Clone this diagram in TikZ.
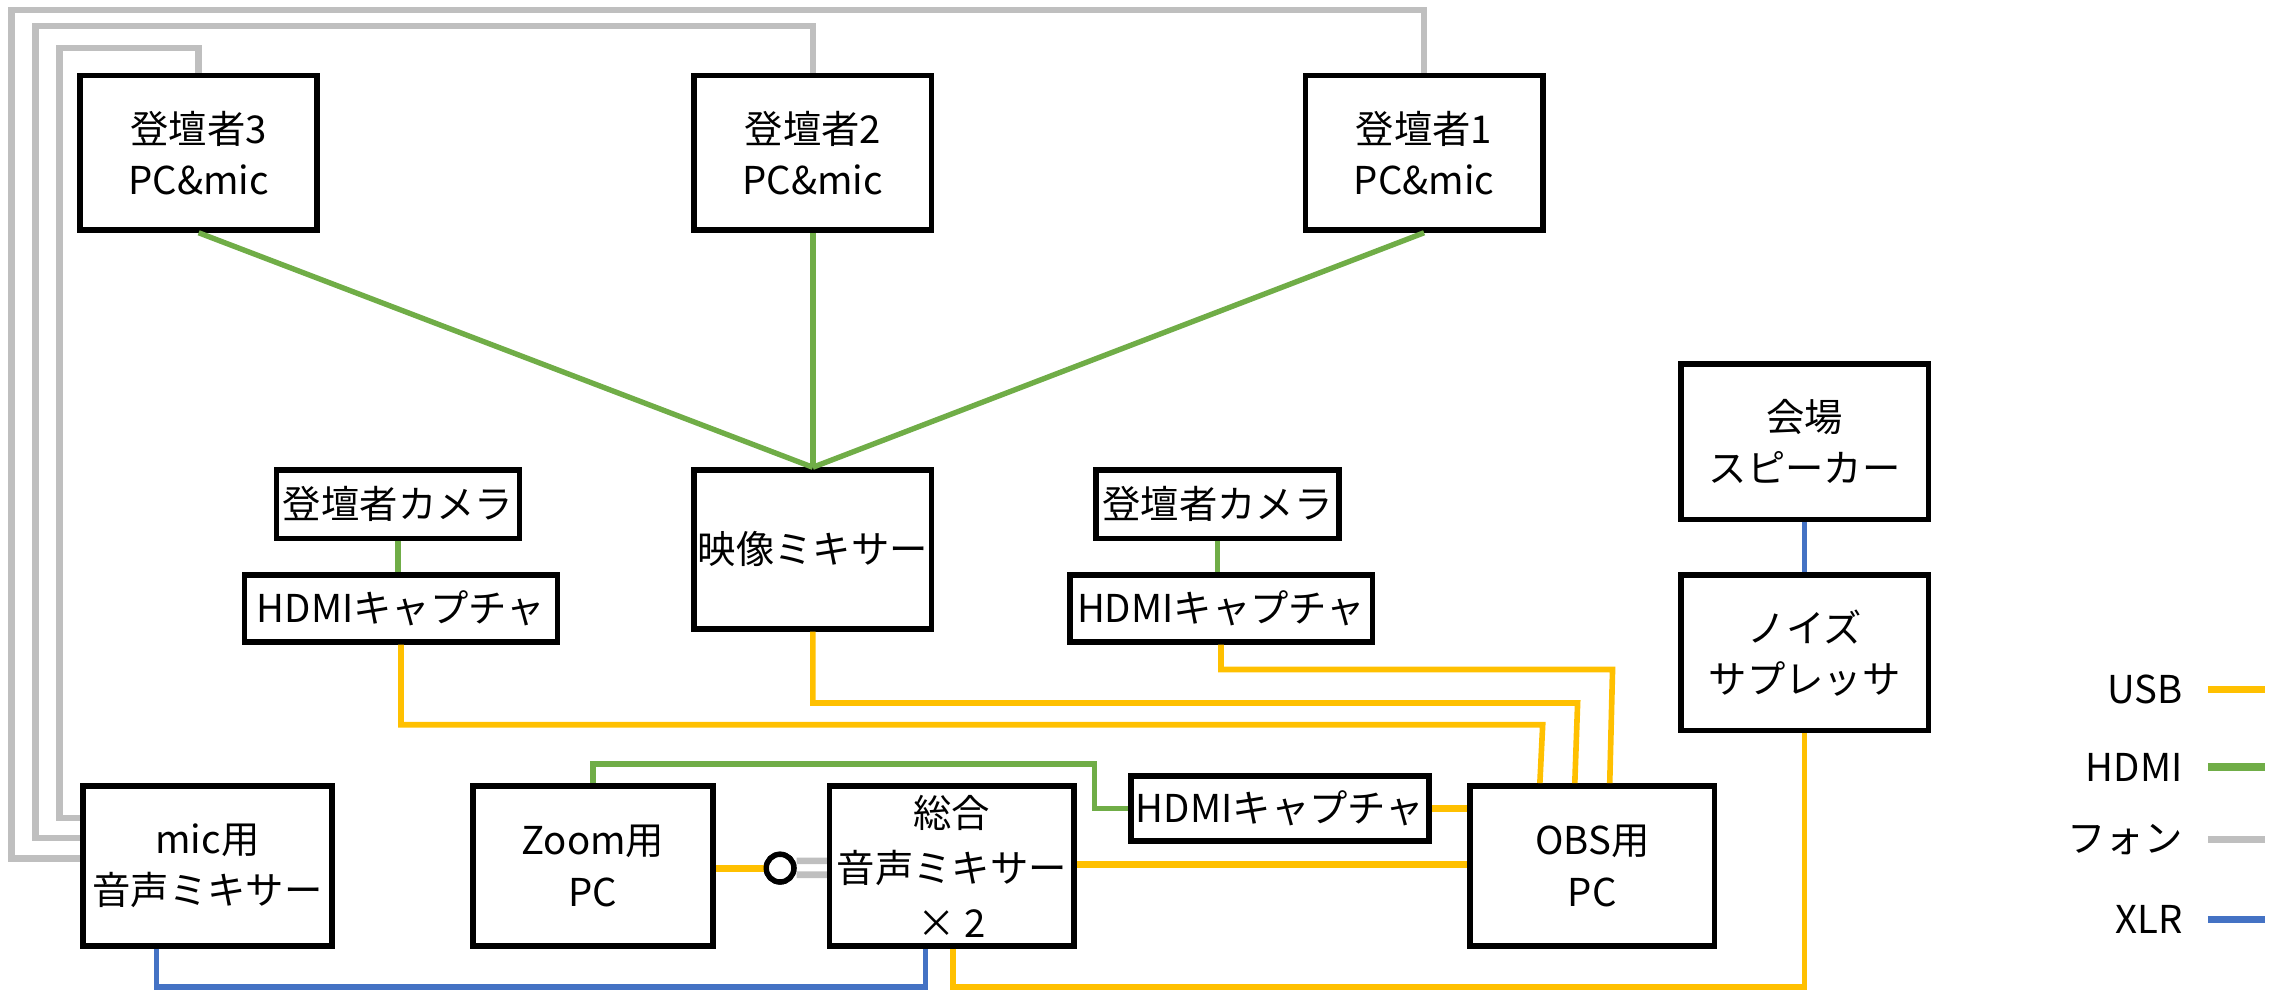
\documentclass[tikz,border=0pt]{standalone}
\usepackage{fontspec}
\setmainfont{Noto Sans CJK JP}
\usetikzlibrary{calc}
\definecolor{usbc}{HTML}{FFC000}
\definecolor{hdmic}{HTML}{70AD47}
\definecolor{phonec}{HTML}{BFBFBF}
\definecolor{xlrc}{HTML}{4472C4}
\begin{document}
\begin{tikzpicture}[x=0.02cm,y=-0.02cm,
  box/.style 2 args={draw, line width=2.2pt, fill=white, inner sep=0pt,
    minimum width=#1*0.02cm, minimum height=#2*0.02cm, align=center,
    font=\fontsize{15}{20}\selectfont},
  usb/.style={draw=usbc, line width=2.2pt},
  usbthick/.style={draw=usbc, line width=2.7pt},
  hdmi/.style={draw=hdmic, line width=2.1pt},
  phone/.style={draw=phonec, line width=2.5pt},
  xlr/.style={draw=xlrc, line width=2.2pt},
  legtext/.style={font=\fontsize{15}{20}\selectfont, inner sep=0pt, anchor=east},
  jack/.style={circle, draw, line width=2.1pt, fill=white, inner sep=0pt, minimum size=19*0.02cm}]
\useasboundingbox (0,0) rectangle (1568,680);

% boxes
\node[box={163}{106}] (s3) at (136.5,105) {登壇者3\\PC\&mic};
\node[box={163}{106}] (s2) at (558.5,105) {登壇者2\\PC\&mic};
\node[box={163}{106}] (s1) at (978.5,105) {登壇者1\\PC\&mic};
\node[box={167}{47}] (camL) at (273.5,346.5) {登壇者カメラ};
\node[box={215}{46}] (capL) at (275.5,418) {HDMIキャプチャ};
\node[box={163}{109}] (vmix) at (558.5,377.5) {映像ミキサー};
\node[box={167}{47}] (camR) at (836.5,346.5) {登壇者カメラ};
\node[box={208}{46}] (capR) at (839,418) {HDMIキャプチャ};
\node[box={170}{107}] (spk) at (1240,303.5) {会場\\スピーカー};
\node[box={170}{107}] (noise) at (1240,448.5) {ノイズ\\サプレッサ};
\node[box={171}{110}] (micmix) at (142.5,595) {mic用\\音声ミキサー};
\node[box={165}{110}] (zoom) at (407.5,595) {Zoom用\\PC};
\node[box={168}{110}, font=\fontsize{15}{21.5}\selectfont] (total) at (654,595) {総合\\音声ミキサー\\× 2};
\node[box={205}{45}] (capB) at (879.5,555.5) {HDMIキャプチャ};
\node[box={168}{110}] (obs) at (1094,595) {OBS用\\PC};

% HDMI
\draw[hdmi] (s3.south) -- (vmix.north);
\draw[hdmi] (s2.south) -- (vmix.north);
\draw[hdmi] (s1.south) -- (vmix.north);
\draw[hdmi] (camL.south) -- (capL.north -| camL.south);
\draw[hdmi] (camR.south) -- (capR.north -| camR.south);
\draw[hdmi] (zoom.north) |- (752,525) |- (capB.west);

% phone
\draw[phone] (s1.north) |- (8,7) |- ($(micmix.west)+(0,-5)$);
\draw[phone] (s2.north) |- (24.5,18) |- ($(micmix.west)+(0,-19)$);
\draw[phone] (s3.north) |- (41,33) |- ($(micmix.west)+(0,-33)$);

% USB to OBS
\coordinate (o1) at ($(obs.north west)+(50,0)$);
\coordinate (o2) at ($(obs.north west)+(74,0)$);
\coordinate (o3) at ($(obs.north west)+(98,0)$);
\draw[usb] (capL.south) |- (1060,498) -- (o1);
\draw[usb] (vmix.south) |- (1084,483) -- (o2);
\draw[usb] (capR.south) |- (1108,460) -- (o3);
\draw[usbthick] (capB.east) -- (obs.west |- capB.east);
\draw[usbthick] ($(total.east)+(0,-1)$) -- ($(obs.west)+(0,-1)$);

% jack between zoom and total
\node[jack] (jk) at (536,596.5) {};
\draw[usbthick] ($(zoom.east)+(0,1.5)$) -- (jk.west);
\draw[phone, line width=2.6pt] ($(jk.east)+(0,-5)$) -- ($(total.west)+(0,-3.5)$);
\draw[phone, line width=2.6pt] ($(jk.east)+(0,4.5)$) -- ($(total.west)+(0,6)$);
\node[jack] at (jk) {};

% XLR and USB along bottom
\draw[xlr] ($(micmix.south)+(-35,0)$) |- (636,678) -- ($(total.south)+(-18,0)$);
\draw[usb] ($(total.south)+(1,0)$) |- (1240,678) -- (noise.south);
\draw[xlr] (spk.south) -- (noise.north);

% legend
\node[legtext] (lu) at (1500,474) {USB};
\node[legtext] (lh) at (1500,527) {HDMI};
\node[legtext] (lp) at (1500,577) {フォン};
\node[legtext] (lx) at (1500,632) {XLR};
\draw[usbc, line width=2.8pt] ($(lu.east)+(17,0)$) -- ++(39,0);
\draw[hdmic, line width=2.8pt] ($(lh.east)+(17,0)$) -- ++(39,0);
\draw[phonec, line width=2.8pt] ($(lp.east)+(17,0)$) -- ++(39,0);
\draw[xlrc, line width=2.8pt] ($(lx.east)+(17,0)$) -- ++(39,0);
\end{tikzpicture}
\end{document}
